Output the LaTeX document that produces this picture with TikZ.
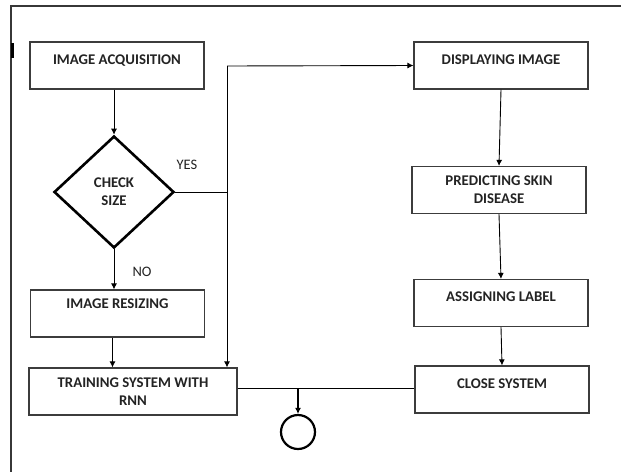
\documentclass[tikz,border=0pt]{standalone}
\usepackage{fontspec}
\setmainfont{Carlito}
\usetikzlibrary{positioning,arrows.meta,shapes.geometric}
\definecolor{Frame}{RGB}{55,55,55}
\definecolor{Edge}{RGB}{60,60,60}
\definecolor{Ink}{RGB}{35,35,35}

\begin{document}
\begin{tikzpicture}[x=1pt,y=-1pt,
    stage/.style={draw=Edge,line width=1.2pt,minimum width=174pt,minimum height=47pt,
      inner sep=0pt,align=center,text=Ink,font=\bfseries\fontsize{14.8}{18}\selectfont},
    stagetop/.style={stage,text height=9pt,text depth=12pt},
    check/.style={diamond,draw=black,line width=2.6pt,inner sep=0pt,minimum width=120pt,
      minimum height=112pt,align=center,text=Ink,font=\bfseries\fontsize{14.8}{18}\selectfont},
    flow/.style={draw=black,line width=0.9pt,-{Latex[length=6pt,width=6pt]}},
    link/.style={draw=black,line width=0.9pt},
    tag/.style={text=Ink,font=\fontsize{14.5}{16}\selectfont}]
  \useasboundingbox (0,0) rectangle (621,472);
  % frame
  \draw[Frame,line width=2pt] (11,6) -- (621,6);
  \draw[Frame,line width=1.3pt] (11,5) -- (11,472);
  \draw[black,line width=3pt] (12,43) -- (12,58);

  % left column
  \node[stagetop] (acq) at (117,65.5) {IMAGE ACQUISITION};
  \node[check] (chk) at (114,192) {CHECK\\SIZE};
  \node[stagetop,text depth=19pt] (rsz) at (117.5,313.5) {IMAGE RESIZING};
  \node[stage,minimum width=208pt] (trn) at (133,391.5) {TRAINING SYSTEM WITH\\RNN};

  % right column
  \node[stagetop] (disp) at (501,65.5) {DISPLAYING IMAGE};
  \node[stage] (pred) at (499,190) {PREDICTING SKIN\\DISEASE};
  \node[stagetop] (asg) at (501,303) {ASSIGNING LABEL};
  \node[stagetop] (cls) at (502,389.5) {CLOSE SYSTEM};

  \node[circle,draw=black,line width=2.2pt,minimum size=34pt,inner sep=0pt] (stop) at (298,432) {};
  \node[tag] (yes) at (187,165) {YES};
  \node[tag] (no) at (142,272) {NO};

  \coordinate (bus) at (227,66);
  \coordinate (mid) at (298,388);

  % connectors
  \draw[flow] (acq.south -| chk.north) -- (chk.north);
  \draw[flow] (chk.south) -- (rsz.north -| chk.south);
  \draw[flow] ([xshift=-5pt]rsz.south) -- ([xshift=-5pt]rsz.south |- trn.north);
  \draw[link] (chk.east) -- (chk.east -| bus);
  \draw[flow] (bus) -- (disp.west);
  \draw[flow] (bus) -- (bus |- trn.north);
  \draw[flow] (disp.south) -- (pred.north);
  \draw[flow] (pred.south) -- (asg.north);
  \draw[flow] (asg.south) -- (cls.north);
  \draw[link] (trn.east |- mid) -- (cls.west |- mid);
  \draw[flow,line width=1.8pt] (mid) -- (stop.north);
\end{tikzpicture}
\end{document}
